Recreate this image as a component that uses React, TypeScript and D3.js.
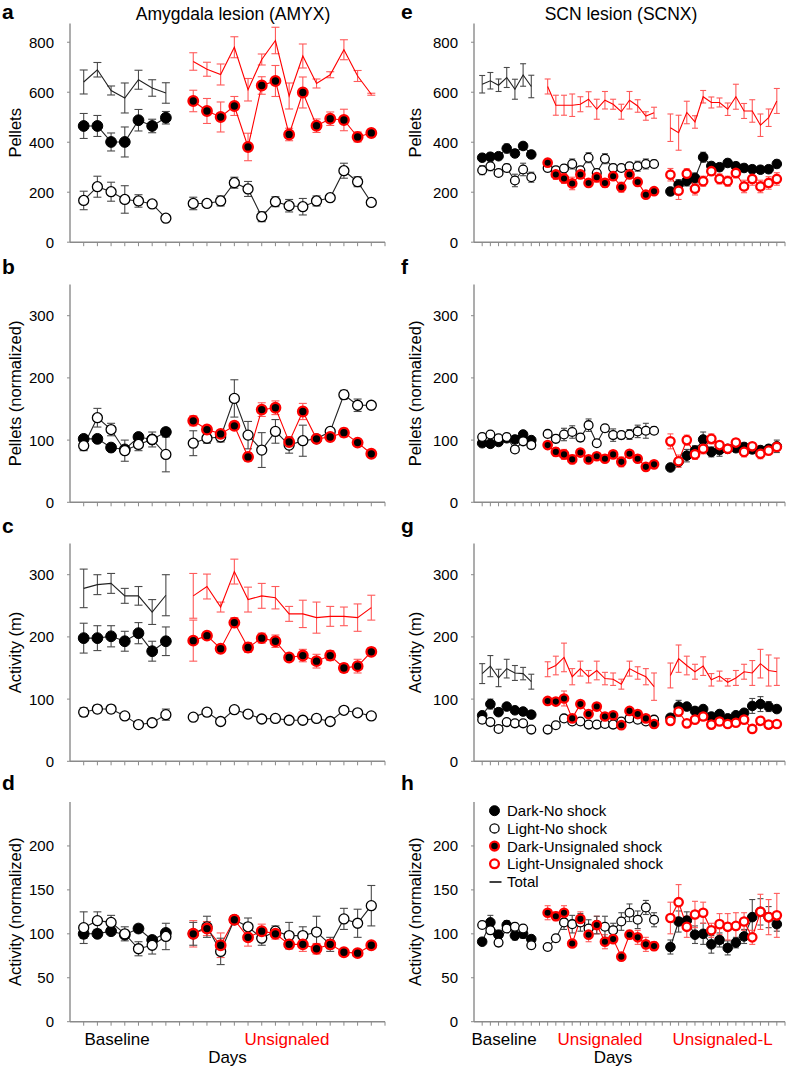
import React from 'react';
import * as d3 from 'd3';

// ---------- categories ----------
const baselineDays = [1, 2, 3, 4, 5, 6, 7];
const unsignaledDays = [9, 10, 11, 12, 13, 14, 15, 16, 17, 18, 19, 20, 21, 22];
const unsignaledLDays = [24, 25, 26, 27, 28, 29, 30, 31, 32, 33, 34, 35, 36, 37];

const leftTitle = 'Amygdala lesion (AMYX)';
const rightTitle = 'SCN lesion (SCNX)';
const leftPeriodLabels = ['Baseline', 'Unsignaled'];
const rightPeriodLabels = ['Baseline', 'Unsignaled', 'Unsignaled-L'];
const yLabels = ['Pellets', 'Pellets (normalized)', 'Activity (m)', 'Activity (normalized)'];
const yMax = [875, 350, 350, 250];
const yStep = [200, 100, 100, 50];
const legendLabels = ['Dark-No shock', 'Light-No shock', 'Dark-Unsignaled shock', 'Light-Unsignaled shock', 'Total'];

// ---------- panel a (AMYX pellets) ----------
const aBaseDark = [465, 465, 401, 401, 488, 465, 498];
const aBaseDarkErr = [50, 42, 36, 60, 43, 27, 25];
const aBaseLight = [167, 222, 202, 171, 165, 153, 96];
const aBaseLightErr = [37, 42, 38, 55, 25, 8, 6];
const aBaseTotal = [641, 690, 607, 577, 650, 617, 597];
const aBaseTotalErr = [48, 29, 18, 60, 38, 33, 41];
const aUnsDark = [565, 525, 501, 545, 381, 627, 645, 431, 599, 466, 494, 489, 421, 437];
const aUnsDarkErr = [43, 50, 60, 38, 55, 35, 62, 25, 62, 27, 27, 43, 20, 10];
const aUnsLight = [155, 155, 165, 238, 213, 102, 162, 146, 142, 165, 178, 286, 242, 159];
const aUnsLightErr = [25, 6, 20, 22, 30, 20, 20, 25, 33, 20, 6, 30, 20, 6];
const aUnsTotal = [723, 692, 671, 780, 610, 731, 807, 585, 745, 635, 670, 770, 665, 592];
const aUnsTotalErr = [35, 28, 42, 42, 45, 22, 53, 52, 48, 18, 12, 40, 22, 4];

// ---------- panel b ----------
const bBaseDark = [102, 102, 88, 85, 105, 101, 113];
const bBaseDarkErr = [5, 5, 4, 5, 5, 5, 6];
const bBaseLight = [91, 136, 117, 83, 93, 101, 77];
const bBaseLightErr = [8, 15, 10, 17, 10, 12, 28];
const bUnsDark = [131, 117, 110, 123, 73, 149, 152, 97, 146, 102, 105, 112, 96, 78];
const bUnsDarkErr = [8, 5, 5, 6, 7, 11, 11, 7, 13, 5, 5, 7, 4, 3];
const bUnsLight = [95, 103, 105, 167, 108, 84, 114, 92, 99, 102, 114, 173, 156, 156];
const bUnsLightErr = [20, 8, 8, 30, 22, 28, 19, 13, 25, 5, 4, 7, 10, 2];

// ---------- panel c ----------
const cBaseTotal = [278, 284, 286, 266, 266, 240, 267];
const cBaseTotalErr = [31, 16, 16, 12, 15, 20, 33];
const cBaseDark = [198, 198, 201, 193, 206, 177, 193];
const cBaseDarkErr = [24, 20, 17, 16, 17, 16, 23];
const cBaseLight = [79, 84, 84, 73, 59, 62, 75];
const cBaseLightErr = [7, 6, 6, 5, 4, 4, 9];
const cUnsTotal = [266, 281, 248, 305, 260, 266, 263, 237, 237, 231, 233, 233, 231, 247];
const cUnsTotalErr = [36, 20, 8, 20, 20, 20, 18, 12, 22, 25, 16, 15, 22, 20];
const cUnsDark = [194, 202, 181, 223, 183, 198, 193, 167, 170, 161, 170, 150, 153, 176];
const cUnsDarkErr = [33, 5, 6, 8, 8, 8, 10, 5, 10, 11, 8, 7, 11, 5];
const cUnsLight = [71, 79, 64, 83, 76, 68, 69, 66, 66, 69, 64, 82, 78, 73];
const cUnsLightErr = [4, 6, 3, 4, 4, 3, 3, 3, 3, 5, 3, 4, 4, 5];

// ---------- panel d ----------
const dBaseDark = [100, 100, 103, 99, 106, 93, 101];
const dBaseDarkErr = [5, 3, 3, 4, 4, 4, 4];
const dBaseLight = [107, 115, 113, 100, 83, 87, 97];
const dBaseLightErr = [18, 10, 8, 8, 8, 10, 15];
const dUnsDark = [100, 106, 87, 116, 96, 103, 100, 88, 88, 83, 88, 79, 78, 87];
const dUnsDarkErr = [15, 8, 14, 4, 10, 8, 6, 5, 8, 6, 5, 3, 3, 3];
const dUnsLight = [100, 108, 80, 116, 108, 95, 103, 98, 98, 102, 88, 117, 112, 132];
const dUnsLightErr = [13, 12, 15, 4, 10, 8, 6, 15, 10, 18, 8, 12, 16, 23];

// ---------- panel e (SCNX pellets) ----------
const eBaseTotal = [632, 646, 628, 659, 612, 669, 623];
const eBaseTotalErr = [35, 33, 25, 40, 40, 45, 45];
const eBaseDark = [338, 342, 344, 375, 355, 385, 351];
const eBaseDarkErr = [15, 15, 12, 18, 15, 12, 15];
const eBaseLight = [288, 304, 277, 297, 247, 291, 260];
const eBaseLightErr = [18, 18, 8, 15, 25, 25, 20];
const eUnsTotal = [623, 548, 548, 548, 552, 572, 532, 568, 552, 522, 568, 545, 505, 518];
const eUnsTotalErr = [30, 40, 40, 45, 30, 30, 40, 35, 20, 30, 35, 25, 17, 22];
const eUnsDark = [318, 271, 255, 235, 271, 237, 260, 237, 264, 220, 271, 241, 190, 204];
const eUnsDarkErr = [15, 20, 20, 25, 15, 15, 20, 18, 15, 20, 15, 15, 15, 10];
const eUnsLight = [297, 288, 295, 313, 288, 338, 277, 334, 297, 297, 304, 304, 313, 313];
const eUnsLightErr = [15, 15, 15, 20, 15, 20, 15, 20, 15, 10, 15, 20, 20, 15];
const eLTotal = [458, 438, 519, 481, 582, 559, 559, 532, 582, 525, 525, 468, 498, 565];
const eLTotalErr = [55, 70, 45, 25, 25, 22, 18, 25, 50, 30, 45, 45, 35, 50];
const eLDark = [203, 230, 245, 257, 340, 305, 300, 317, 304, 297, 292, 290, 292, 313];
const eLDarkErr = [15, 20, 20, 20, 20, 15, 15, 15, 15, 15, 15, 15, 15, 15];
const eLLight = [270, 206, 274, 214, 244, 284, 253, 244, 277, 223, 253, 223, 237, 253];
const eLLightErr = [25, 35, 20, 25, 20, 15, 20, 20, 20, 25, 25, 25, 25, 25];

// ---------- panel f ----------
const fBaseDark = [95, 94, 97, 103, 101, 109, 100];
const fBaseDarkErr = [3, 3, 3, 3, 3, 3, 3];
const fBaseLight = [105, 109, 103, 105, 85, 98, 92];
const fBaseLightErr = [4, 4, 4, 4, 4, 4, 4];
const fUnsDark = [92, 81, 77, 69, 80, 69, 74, 70, 77, 65, 78, 70, 57, 61];
const fUnsDarkErr = [5, 7, 8, 7, 5, 5, 5, 6, 5, 8, 5, 6, 5, 4];
const fUnsLight = [110, 102, 109, 113, 104, 124, 95, 119, 108, 108, 109, 114, 115, 115];
const fUnsLightErr = [5, 6, 10, 10, 6, 10, 5, 6, 10, 6, 8, 10, 12, 6];
const fLDark = [56, 65, 75, 83, 101, 81, 84, 86, 87, 89, 85, 84, 86, 90];
const fLDarkErr = [4, 6, 10, 8, 12, 8, 10, 6, 6, 6, 6, 6, 6, 10];
const fLLight = [98, 66, 100, 77, 86, 102, 92, 86, 96, 81, 90, 78, 83, 89];
const fLLightErr = [12, 10, 8, 8, 8, 8, 6, 6, 6, 8, 6, 8, 6, 6];

// ---------- panel g ----------
const gBaseTotal = [141, 153, 134, 149, 142, 141, 128];
const gBaseTotalErr = [16, 17, 14, 15, 12, 10, 12];
const gBaseDark = [74, 92, 79, 88, 82, 80, 75];
const gBaseDarkErr = [5, 8, 5, 4, 4, 4, 6];
const gBaseLight = [67, 63, 52, 63, 61, 61, 51];
const gBaseLightErr = [6, 4, 3, 3, 3, 3, 3];
const gUnsTotal = [148, 154, 167, 136, 149, 136, 146, 133, 132, 124, 149, 142, 136, 120];
const gUnsTotalErr = [12, 15, 23, 13, 12, 10, 15, 10, 10, 8, 12, 10, 13, 22];
const gUnsDark = [97, 96, 101, 69, 92, 76, 88, 72, 74, 58, 81, 76, 69, 60];
const gUnsDarkErr = [4, 4, 12, 5, 4, 4, 4, 4, 4, 4, 4, 4, 4, 6];
const gUnsLight = [51, 58, 69, 64, 64, 59, 59, 60, 59, 64, 69, 67, 64, 67];
const gUnsLightErr = [3, 3, 3, 3, 3, 3, 3, 3, 3, 3, 3, 3, 3, 3];
const gLTotal = [138, 165, 154, 144, 153, 131, 137, 127, 134, 144, 142, 157, 146, 144];
const gLTotalErr = [20, 22, 15, 12, 15, 10, 8, 6, 12, 12, 20, 23, 25, 22];
const gLDark = [70, 88, 88, 81, 84, 72, 76, 69, 74, 78, 89, 92, 88, 84];
const gLDarkErr = [4, 10, 4, 4, 4, 4, 4, 4, 4, 4, 12, 12, 8, 5];
const gLLight = [65, 80, 61, 67, 72, 59, 64, 60, 62, 67, 52, 65, 59, 60];
const gLLightErr = [4, 8, 3, 3, 3, 3, 3, 3, 3, 3, 3, 3, 3, 3];

// ---------- panel h ----------
const hBaseDark = [91, 113, 99, 110, 98, 100, 94];
const hBaseDarkErr = [4, 8, 5, 5, 5, 5, 4];
const hBaseLight = [110, 104, 90, 106, 108, 106, 87];
const hBaseLightErr = [4, 4, 4, 4, 4, 4, 4];
const hUnsDark = [124, 120, 124, 89, 117, 99, 110, 91, 94, 74, 99, 96, 88, 86];
const hUnsDarkErr = [8, 5, 8, 4, 8, 8, 10, 8, 4, 4, 5, 8, 8, 5];
const hUnsLight = [85, 95, 113, 111, 113, 106, 110, 108, 104, 114, 124, 116, 130, 116];
const hUnsLightErr = [4, 4, 8, 10, 10, 10, 10, 12, 8, 10, 10, 10, 8, 8];
const hLDark = [85, 114, 115, 99, 100, 88, 93, 84, 90, 97, 119, 125, 119, 111];
const hLDarkErr = [8, 12, 10, 10, 12, 10, 8, 8, 6, 8, 20, 15, 12, 8];
const hLLight = [118, 136, 108, 122, 124, 104, 111, 108, 109, 114, 96, 125, 119, 121];
const hLLightErr = [18, 20, 12, 15, 12, 8, 12, 15, 15, 10, 8, 20, 20, 25];

// ---------- series assembly ----------
type Kind = 'dark' | 'light' | 'darkShock' | 'lightShock' | 'total' | 'totalShock';
type Series = { kind: Kind; days: number[]; values: number[]; errors: number[] };
const S = (kind: Kind, days: number[], values: number[], errors: number[]): Series => ({ kind, days, values, errors });

const leftPanels: Series[][] = [
  [
    S('total', baselineDays, aBaseTotal, aBaseTotalErr), S('dark', baselineDays, aBaseDark, aBaseDarkErr), S('light', baselineDays, aBaseLight, aBaseLightErr),
    S('totalShock', unsignaledDays, aUnsTotal, aUnsTotalErr), S('darkShock', unsignaledDays, aUnsDark, aUnsDarkErr), S('light', unsignaledDays, aUnsLight, aUnsLightErr),
  ],
  [
    S('dark', baselineDays, bBaseDark, bBaseDarkErr), S('light', baselineDays, bBaseLight, bBaseLightErr),
    S('darkShock', unsignaledDays, bUnsDark, bUnsDarkErr), S('light', unsignaledDays, bUnsLight, bUnsLightErr),
  ],
  [
    S('total', baselineDays, cBaseTotal, cBaseTotalErr), S('dark', baselineDays, cBaseDark, cBaseDarkErr), S('light', baselineDays, cBaseLight, cBaseLightErr),
    S('totalShock', unsignaledDays, cUnsTotal, cUnsTotalErr), S('darkShock', unsignaledDays, cUnsDark, cUnsDarkErr), S('light', unsignaledDays, cUnsLight, cUnsLightErr),
  ],
  [
    S('dark', baselineDays, dBaseDark, dBaseDarkErr), S('light', baselineDays, dBaseLight, dBaseLightErr),
    S('darkShock', unsignaledDays, dUnsDark, dUnsDarkErr), S('light', unsignaledDays, dUnsLight, dUnsLightErr),
  ],
];

const rightPanels: Series[][] = [
  [
    S('total', baselineDays, eBaseTotal, eBaseTotalErr), S('dark', baselineDays, eBaseDark, eBaseDarkErr), S('light', baselineDays, eBaseLight, eBaseLightErr),
    S('totalShock', unsignaledDays, eUnsTotal, eUnsTotalErr), S('darkShock', unsignaledDays, eUnsDark, eUnsDarkErr), S('light', unsignaledDays, eUnsLight, eUnsLightErr),
    S('totalShock', unsignaledLDays, eLTotal, eLTotalErr), S('dark', unsignaledLDays, eLDark, eLDarkErr), S('lightShock', unsignaledLDays, eLLight, eLLightErr),
  ],
  [
    S('dark', baselineDays, fBaseDark, fBaseDarkErr), S('light', baselineDays, fBaseLight, fBaseLightErr),
    S('darkShock', unsignaledDays, fUnsDark, fUnsDarkErr), S('light', unsignaledDays, fUnsLight, fUnsLightErr),
    S('dark', unsignaledLDays, fLDark, fLDarkErr), S('lightShock', unsignaledLDays, fLLight, fLLightErr),
  ],
  [
    S('total', baselineDays, gBaseTotal, gBaseTotalErr), S('dark', baselineDays, gBaseDark, gBaseDarkErr), S('light', baselineDays, gBaseLight, gBaseLightErr),
    S('totalShock', unsignaledDays, gUnsTotal, gUnsTotalErr), S('darkShock', unsignaledDays, gUnsDark, gUnsDarkErr), S('light', unsignaledDays, gUnsLight, gUnsLightErr),
    S('totalShock', unsignaledLDays, gLTotal, gLTotalErr), S('dark', unsignaledLDays, gLDark, gLDarkErr), S('lightShock', unsignaledLDays, gLLight, gLLightErr),
  ],
  [
    S('dark', baselineDays, hBaseDark, hBaseDarkErr), S('light', baselineDays, hBaseLight, hBaseLightErr),
    S('darkShock', unsignaledDays, hUnsDark, hUnsDarkErr), S('light', unsignaledDays, hUnsLight, hUnsLightErr),
    S('dark', unsignaledLDays, hLDark, hLDarkErr), S('lightShock', unsignaledLDays, hLLight, hLLightErr),
  ],
];

// ---------- styling / layout ----------
const FONT = "'Liberation Sans', Arial, Helvetica, sans-serif";
const RED = '#ff0000';
const RED_ERR = '#ff5a5a';
const BLACK_ERR = '#4a4a4a';
const AXIS = '#8a8a8a';

const rows = [
  { top: 23.5, bottom: 242.2, letterY: 19 },
  { top: 284.6, bottom: 502.3, letterY: 274 },
  { top: 543.6, bottom: 761.3, letterY: 533 },
  { top: 802, bottom: 1021.7, letterY: 790 },
];

const columns = [
  { x0: 70, x1: 385, dMax: 23, r: 5.4, cap: 4, letter: ['a', 'b', 'c', 'd'], letterX: 2, ylabX: 21, title: leftTitle, titleX: 233 },
  { x0: 474, x1: 785, dMax: 38, r: 4.8, cap: 3, letter: ['e', 'f', 'g', 'h'], letterX: 401, ylabX: 421, title: rightTitle, titleX: 621 },
];

const isRed = (k: Kind) => k === 'darkShock' || k === 'lightShock' || k === 'totalShock';

function Marker({ kind, cx, cy, r }: { kind: Kind; cx: number; cy: number; r: number }) {
  if (kind === 'dark') return <circle cx={cx} cy={cy} r={r} fill="#000" stroke="#000" strokeWidth={1} />;
  if (kind === 'light') return <circle cx={cx} cy={cy} r={r - 0.4} fill="#fff" stroke="#000" strokeWidth={1.3} />;
  if (kind === 'darkShock') return <circle cx={cx} cy={cy} r={r - 0.6} fill="#000" stroke={RED} strokeWidth={2.3} />;
  if (kind === 'lightShock') return <circle cx={cx} cy={cy} r={r - 0.6} fill="#fff" stroke={RED} strokeWidth={2.3} />;
  return null;
}

function Panel({ col, row, series, ci, ri }: { col: any; row: any; series: Series[]; ci: number; ri: number }) {
  const x = d3.scaleLinear().domain([0, col.dMax]).range([col.x0, col.x1]);
  const y = d3.scaleLinear().domain([0, yMax[ri]]).range([row.bottom, row.top]);
  const yTicks = d3.range(0, yMax[ri], yStep[ri]);
  const xTicks = d3.range(1, col.dMax + 1);
  const line = d3.line<[number, number]>().x((d) => x(d[0])).y((d) => y(d[1]));
  const markerOrder: Kind[] = ['dark', 'light', 'darkShock', 'lightShock'];
  const yMid = (row.top + row.bottom) / 2;
  return (
    <g>
      {/* panel letter */}
      <text x={col.letterX} y={row.letterY} fontSize={21} fontWeight="bold" fontFamily={FONT} fill="#000">
        {col.letter[ri]}
      </text>
      {/* axes */}
      <line x1={col.x0} x2={col.x0} y1={row.top} y2={row.bottom} stroke={AXIS} strokeWidth={1.4} />
      <line x1={col.x0} x2={col.x1} y1={row.bottom} y2={row.bottom} stroke={AXIS} strokeWidth={1.4} />
      {xTicks.map((t) => (
        <line key={'xt' + t} x1={x(t)} x2={x(t)} y1={row.bottom} y2={row.bottom + 4} stroke={AXIS} strokeWidth={1} />
      ))}
      {yTicks.map((t) => (
        <g key={'yt' + t}>
          <line x1={col.x0 - 3} x2={col.x0} y1={y(t)} y2={y(t)} stroke={AXIS} strokeWidth={1} />
          <text x={col.x0 - 16} y={y(t)} dy="0.36em" textAnchor="end" fontSize={15} fontFamily={FONT} fill="#000">
            {t}
          </text>
        </g>
      ))}
      <text
        transform={`translate(${col.ylabX},${yMid}) rotate(-90)`}
        textAnchor="middle"
        fontSize={16.5}
        fontFamily={FONT}
        fill="#000"
      >
        {yLabels[ri]}
      </text>
      {/* error bars */}
      {series.map((s, si) =>
        s.days.map((d, i) => {
          const cx = x(d);
          const yt = y(s.values[i] + s.errors[i]);
          const yb = y(s.values[i] - s.errors[i]);
          const c = isRed(s.kind) ? RED_ERR : BLACK_ERR;
          return (
            <g key={`e${si}-${i}`} stroke={c} strokeWidth={1.1}>
              <line x1={cx} x2={cx} y1={yt} y2={yb} />
              <line x1={cx - col.cap} x2={cx + col.cap} y1={yt} y2={yt} />
              <line x1={cx - col.cap} x2={cx + col.cap} y1={yb} y2={yb} />
            </g>
          );
        })
      )}
      {/* lines */}
      {series.map((s, si) => (
        <path
          key={'l' + si}
          d={line(s.days.map((d, i) => [d, s.values[i]] as [number, number])) || ''}
          fill="none"
          stroke={isRed(s.kind) ? RED : '#222'}
          strokeWidth={1.1}
        />
      ))}
      {/* markers */}
      {markerOrder.map((k) =>
        series
          .filter((s) => s.kind === k)
          .map((s, si) =>
            s.days.map((d, i) => <Marker key={`m${k}${si}-${i}`} kind={k} cx={x(d)} cy={y(s.values[i])} r={col.r} />)
          )
      )}
    </g>
  );
}

function Legend() {
  const kinds: Kind[] = ['dark', 'light', 'darkShock', 'lightShock'];
  const x0 = 494.5;
  const ys = [810.7, 828.4, 846.1, 863.8, 882];
  return (
    <g>
      {legendLabels.map((lab, i) => (
        <g key={lab}>
          {i < 4 ? (
            <Marker kind={kinds[i]} cx={x0} cy={ys[i]} r={5} />
          ) : (
            <line x1={x0 - 5} x2={x0 + 7} y1={ys[i]} y2={ys[i]} stroke="#000" strokeWidth={1.5} />
          )}
          <text x={507} y={ys[i]} dy="0.36em" fontSize={15} fontFamily={FONT} fill="#000">
            {lab}
          </text>
        </g>
      ))}
    </g>
  );
}

export default function App() {
  const periodColor = (i: number) => (i === 0 ? '#000' : RED);
  const leftPeriodX = [117, 287];
  const rightPeriodX = [504, 600, 722.5];
  return (
    <div style={{ position: 'absolute', left: 0, top: 0 }}>
      <svg width={787} height={1070} viewBox="0 0 787 1070" style={{ display: 'block', background: '#fff' }}>
        <rect x={0} y={0} width={787} height={1070} fill="#fff" />
        {columns.map((col, ci) => (
          <g key={'c' + ci}>
            <text x={col.titleX} y={20} textAnchor="middle" fontSize={17.5} fontFamily={FONT} fill="#000">
              {col.title}
            </text>
            {rows.map((row, ri) => (
              <Panel
                key={'p' + ci + ri}
                col={col}
                row={row}
                ci={ci}
                ri={ri}
                series={(ci === 0 ? leftPanels : rightPanels)[ri]}
              />
            ))}
          </g>
        ))}
        {leftPeriodLabels.map((lab, i) => (
          <text key={'lp' + i} x={leftPeriodX[i]} y={1045} textAnchor="middle" fontSize={17} fontFamily={FONT} fill={periodColor(i)}>
            {lab}
          </text>
        ))}
        {rightPeriodLabels.map((lab, i) => (
          <text key={'rp' + i} x={rightPeriodX[i]} y={1045} textAnchor="middle" fontSize={17} fontFamily={FONT} fill={periodColor(i)}>
            {lab}
          </text>
        ))}
        <text x={227.5} y={1063} textAnchor="middle" fontSize={17} fontFamily={FONT} fill="#000">
          Days
        </text>
        <text x={613} y={1063} textAnchor="middle" fontSize={17} fontFamily={FONT} fill="#000">
          Days
        </text>
        <Legend />
      </svg>
    </div>
  );
}
